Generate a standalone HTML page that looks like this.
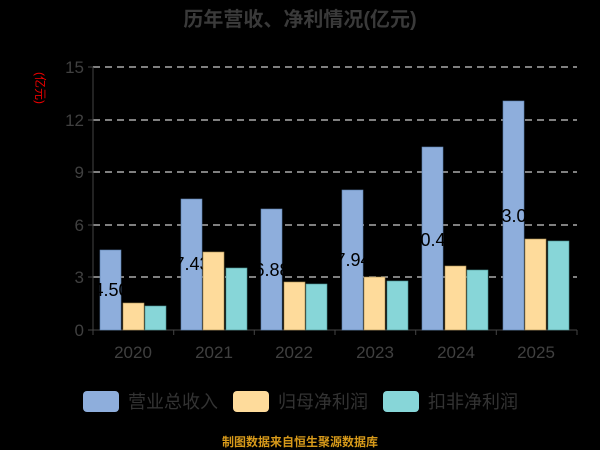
<!DOCTYPE html>
<html><head><meta charset="utf-8"><style>
body{margin:0;background:#000;}
svg{display:block;font-family:"Liberation Sans","Noto Sans CJK SC",sans-serif;}
</style></head><body>
<svg width="600" height="450" viewBox="0 0 600 450">
<rect width="600" height="450" fill="#000"/>
<text x="300" y="26" text-anchor="middle" font-size="20" font-weight="bold" fill="#3a3a3a">历年营收、净利情况(亿元)</text>
<text transform="translate(40,88) rotate(90)" text-anchor="middle" font-size="12" fill="#e00" dy="4">(亿元)</text>
<g stroke="#ccc" stroke-dasharray="7,5" stroke-width="1.2">
<line x1="93" y1="67" x2="577" y2="67"/><line x1="93" y1="120" x2="577" y2="120"/><line x1="93" y1="172" x2="577" y2="172"/><line x1="93" y1="225" x2="577" y2="225"/><line x1="93" y1="277" x2="577" y2="277"/>
</g>
<g stroke="#444"><line x1="93" y1="67" x2="93" y2="330"/><line x1="88" y1="330" x2="577" y2="330"/>
<line x1="88" y1="67" x2="93" y2="67"/><line x1="88" y1="120" x2="93" y2="120"/><line x1="88" y1="172" x2="93" y2="172"/><line x1="88" y1="225" x2="93" y2="225"/><line x1="88" y1="277" x2="93" y2="277"/>
<line x1="173.7" y1="330" x2="173.7" y2="335"/><line x1="254.3" y1="330" x2="254.3" y2="335"/><line x1="335" y1="330" x2="335" y2="335"/><line x1="415.7" y1="330" x2="415.7" y2="335"/><line x1="496.3" y1="330" x2="496.3" y2="335"/><line x1="577" y1="330" x2="577" y2="335"/><line x1="93" y1="330" x2="93" y2="335"/></g>
<g font-size="17" fill="#404040" text-anchor="end"><text x="84" y="73">15</text><text x="84" y="126">12</text><text x="84" y="178">9</text><text x="84" y="231">6</text><text x="84" y="283">3</text><text x="84" y="336">0</text></g>
<g font-size="17" fill="#404040" text-anchor="middle"><text x="133" y="358">2020</text><text x="214" y="358">2021</text><text x="294" y="358">2022</text><text x="375" y="358">2023</text><text x="456" y="358">2024</text><text x="536" y="358">2025</text></g>
<g fill="#8eaedc" stroke="#5b7fae" stroke-width="0.6">
<rect x="100" y="250" width="21" height="80"/><rect x="181" y="199" width="21" height="131"/><rect x="261" y="209" width="21" height="121"/><rect x="342" y="190" width="21" height="140"/><rect x="422" y="147" width="21" height="183"/><rect x="503" y="101" width="21" height="229"/></g>
<g font-size="18" fill="#000" text-anchor="middle"><text x="111" y="296">4.50</text><text x="192" y="270">7.43</text><text x="272" y="276">6.88</text><text x="353" y="266">7.94</text><text x="433" y="246">10.44</text><text x="514" y="222">13.05</text></g>
<g fill="#fedb9b" stroke="#a88a50" stroke-width="0.6">
<rect x="123" y="303" width="21" height="27"/><rect x="203" y="252" width="21" height="78"/><rect x="284" y="282" width="21" height="48"/><rect x="364" y="277" width="21" height="53"/><rect x="445" y="266" width="21" height="64"/><rect x="525" y="239" width="21" height="91"/></g>
<g fill="#87d6d8" stroke="#4a9090" stroke-width="0.6">
<rect x="145" y="306" width="21" height="24"/><rect x="226" y="268" width="21" height="62"/><rect x="306" y="284" width="21" height="46"/><rect x="387" y="281" width="21" height="49"/><rect x="467" y="270" width="21" height="60"/><rect x="548" y="241" width="21" height="89"/></g>
<rect x="83" y="391" width="36" height="21" rx="4" fill="#8eaedc"/><text x="128" y="408" font-size="18" fill="#333">营业总收入</text>
<rect x="233" y="391" width="36" height="21" rx="4" fill="#fedb9b"/><text x="278" y="408" font-size="18" fill="#333">归母净利润</text>
<rect x="383" y="391" width="36" height="21" rx="4" fill="#87d6d8"/><text x="428" y="408" font-size="18" fill="#333">扣非净利润</text>
<text x="300" y="446" text-anchor="middle" font-size="12" font-weight="bold" fill="#d89a1a">制图数据来自恒生聚源数据库</text>
</svg>
</body></html>
